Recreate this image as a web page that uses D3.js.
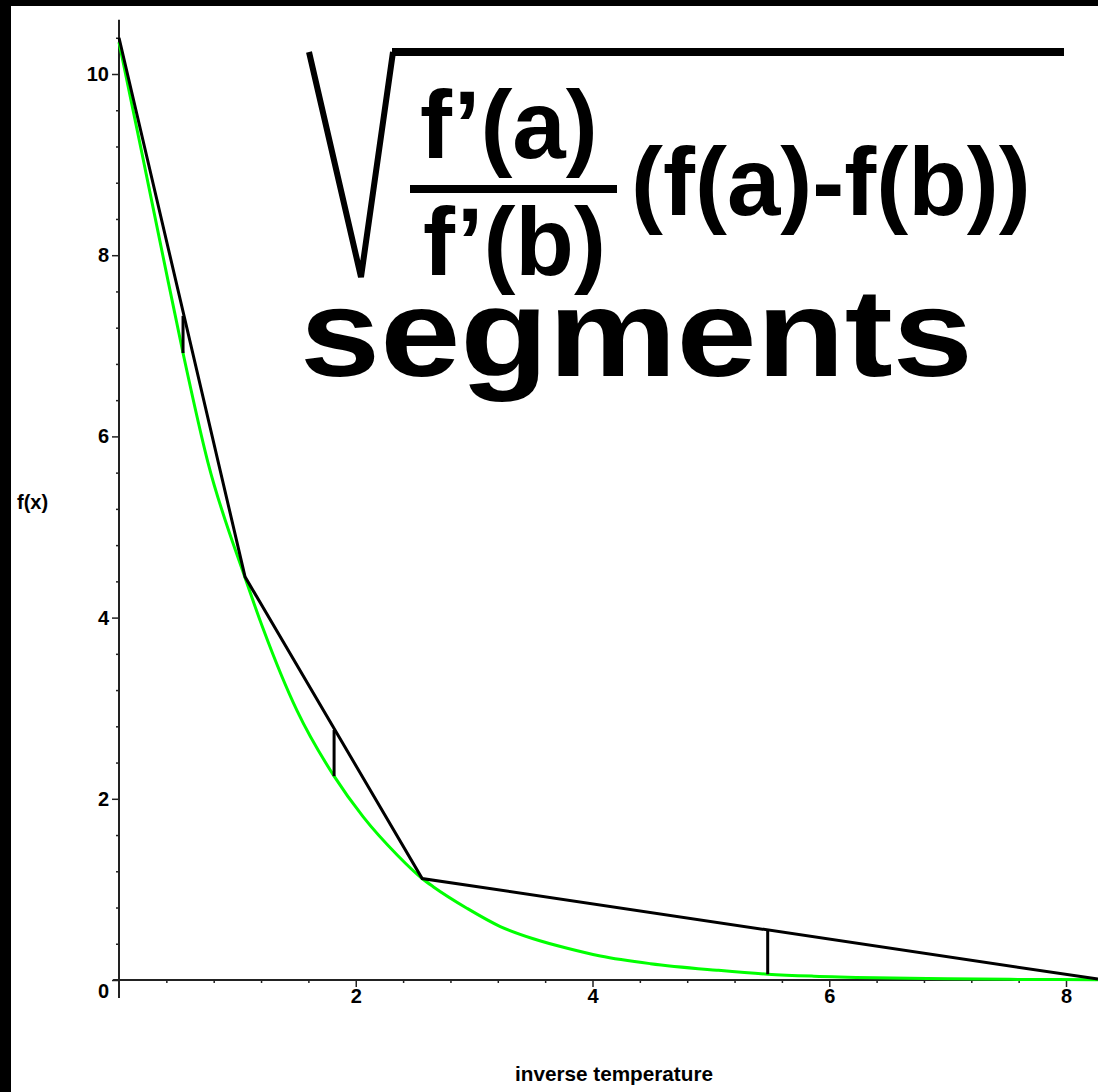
<!DOCTYPE html>
<html lang="en">
	<head>
		<meta charset="utf-8">
		<title>segments</title>
		<script type="text/javascript" src="https://d3js.org/d3.v7.min.js"></script>
		<style type="text/css">
			body { margin: 0; background: #fff; }
			.axis text {
				font-family: "Liberation Sans", Arial, sans-serif;
				font-weight: bold;
				font-size: 20px;
				fill: #000;
			}
			.axis line { stroke: #222; stroke-width: 1.5; }
			.big {
				font-family: "Liberation Sans", Arial, sans-serif;
				font-weight: bold;
				fill: #000;
			}
		</style>
		<script type="text/javascript">
			const width = 1098;
			const height = 1092;

			// green curve f(x)
			const curveX = [0, 0.19, 0.37, 0.541, 0.75, 1.065, 1.217, 1.505, 1.817, 2.063, 2.35, 2.561, 2.654, 2.942, 3.221, 3.5, 3.787, 4.066, 4.49, 5.05, 5.48, 5.87, 6.39, 7.0, 7.66, 8.27];
			const curveY = [10.35, 9.15, 8.0, 6.92, 5.72, 4.44, 3.88, 2.97, 2.25, 1.8, 1.38, 1.12, 1.03, 0.79, 0.59, 0.455, 0.35, 0.265, 0.18, 0.108, 0.064, 0.042, 0.025, 0.014, 0.006, 0.003];

			// black piecewise-linear segments
			const segX = [0, 1.065, 2.561, 8.27];
			const segY = [10.4, 4.45, 1.12, 0.01];

			// vertical error bars between the curve and the segments
			const gapX = [0.541, 1.817, 5.48];
			const gapLow = [6.92, 2.25, 0.064];
			const gapHigh = [7.33, 2.76, 0.552];

			const xTicks = [2, 4, 6, 8];
			const yTicks = [0, 2, 4, 6, 8, 10];
			const xMinor = [0.4, 0.8, 1.2, 1.6, 2.4, 2.8, 3.2, 3.6, 4.4, 4.8, 5.2, 5.6, 6.4, 6.8, 7.2, 7.6];
			const yMinor = [0.4, 0.8, 1.2, 1.6, 2.4, 2.8, 3.2, 3.6, 4.4, 4.8, 5.2, 5.6, 6.4, 6.8, 7.2, 7.6, 8.4, 8.8, 9.2, 9.6, 10.4];
		</script>
	</head>
	<body>
		<div id="Area"></div>
		<script>
			const svg = d3.select("#Area")
						.append("svg")
						.attr("width", width)
						.attr("height", height);

			svg.append("rect").attr("width", width).attr("height", height).attr("fill", "#fff");
			// black frame strips
			svg.append("rect").attr("x", 0).attr("y", 0).attr("width", 11).attr("height", height).attr("fill", "#000");
			svg.append("rect").attr("x", 0).attr("y", 0).attr("width", width).attr("height", 6).attr("fill", "#000");

			const xScale = d3.scaleLinear().domain([0, 8]).range([119, 1066]);
			const yScale = d3.scaleLinear().domain([0, 10]).range([980, 74]);

			// axis lines
			svg.append("line")
				.attr("x1", xScale(-0.05)).attr("x2", width)
				.attr("y1", yScale(0)).attr("y2", yScale(0))
				.attr("stroke", "#222").attr("stroke-width", 2);
			svg.append("line")
				.attr("x1", xScale(0)).attr("x2", xScale(0))
				.attr("y1", yScale(10.6)).attr("y2", yScale(-0.2))
				.attr("stroke", "#222").attr("stroke-width", 2);

			// X axis
			const xAxis = d3.axisBottom(xScale).tickValues(xTicks).tickSize(7).tickPadding(2).tickFormat(d3.format("d"));
			const gx = svg.append("g").attr("class", "axis")
				.attr("transform", "translate(0," + yScale(0) + ")")
				.call(xAxis);
			gx.select(".domain").remove();
			const gxm = svg.append("g").attr("class", "axis")
				.attr("transform", "translate(0," + yScale(0) + ")")
				.call(d3.axisBottom(xScale).tickValues(xMinor).tickSize(3).tickFormat(""));
			gxm.select(".domain").remove();

			// Y axis
			const yAxis = d3.axisLeft(yScale).tickValues(yTicks).tickSize(7).tickPadding(3).tickFormat(d3.format("d"));
			const gy = svg.append("g").attr("class", "axis")
				.attr("transform", "translate(" + xScale(0) + ",0)")
				.call(yAxis);
			gy.select(".domain").remove();
			gy.selectAll(".tick text").filter((d) => d === 0).attr("dy", "0.85em");
			const gym = svg.append("g").attr("class", "axis")
				.attr("transform", "translate(" + xScale(0) + ",0)")
				.call(d3.axisLeft(yScale).tickValues(yMinor).tickSize(3).tickFormat(""));
			gym.select(".domain").remove();

			// axis titles
			svg.append("text").attr("class", "big")
				.attr("x", 17).attr("y", 509)
				.attr("font-size", 20)
				.text("f(x)");
			svg.append("text").attr("class", "big")
				.attr("x", 515).attr("y", 1081)
				.attr("font-size", 21)
				.attr("textLength", 198).attr("lengthAdjust", "spacingAndGlyphs")
				.text("inverse temperature");

			// green curve
			const curvePts = curveX.map((x, i) => [x, curveY[i]]);
			svg.append("path")
				.datum(curvePts)
				.attr("fill", "none")
				.attr("stroke", "#00ff00")
				.attr("stroke-width", 3)
				.attr("d", d3.line().x((d) => xScale(d[0])).y((d) => yScale(d[1])).curve(d3.curveMonotoneX));

			// black segments
			const segPts = segX.map((x, i) => [x, segY[i]]);
			svg.append("path")
				.datum(segPts)
				.attr("fill", "none")
				.attr("stroke", "#000")
				.attr("stroke-width", 3)
				.attr("d", d3.line().x((d) => xScale(d[0])).y((d) => yScale(d[1])));

			svg.selectAll(".gap")
				.data(gapX)
				.enter()
				.append("line")
				.attr("class", "gap")
				.attr("x1", (d) => xScale(d)).attr("x2", (d) => xScale(d))
				.attr("y1", (d, i) => yScale(gapLow[i])).attr("y2", (d, i) => yScale(gapHigh[i]))
				.attr("stroke", "#000").attr("stroke-width", 3);

			// formula sqrt( f'(a)/f'(b) (f(a)-f(b)) )
			svg.append("path")
				.attr("d", "M309,52 L361,277 L393,52")
				.attr("fill", "none").attr("stroke", "#000").attr("stroke-width", 6)
				.attr("stroke-linejoin", "miter");
			svg.append("line")
				.attr("x1", 392).attr("x2", 1064).attr("y1", 52).attr("y2", 52)
				.attr("stroke", "#000").attr("stroke-width", 8);
			svg.append("text").attr("class", "big").attr("font-size", 96)
				.attr("x", 420).attr("y", 158).text("f’(a)");
			svg.append("line")
				.attr("x1", 410).attr("x2", 617).attr("y1", 189).attr("y2", 189)
				.attr("stroke", "#000").attr("stroke-width", 8);
			svg.append("text").attr("class", "big").attr("font-size", 96)
				.attr("x", 423).attr("y", 275).text("f’(b)");
			svg.append("text").attr("class", "big").attr("font-size", 96)
				.attr("x", 631).attr("y", 215).text("(f(a)-f(b))");

			svg.append("text").attr("class", "big").attr("font-size", 124)
				.attr("x", 300).attr("y", 376)
				.attr("textLength", 673).attr("lengthAdjust", "spacingAndGlyphs")
				.text("segments");
		</script>
</body>
</html>
